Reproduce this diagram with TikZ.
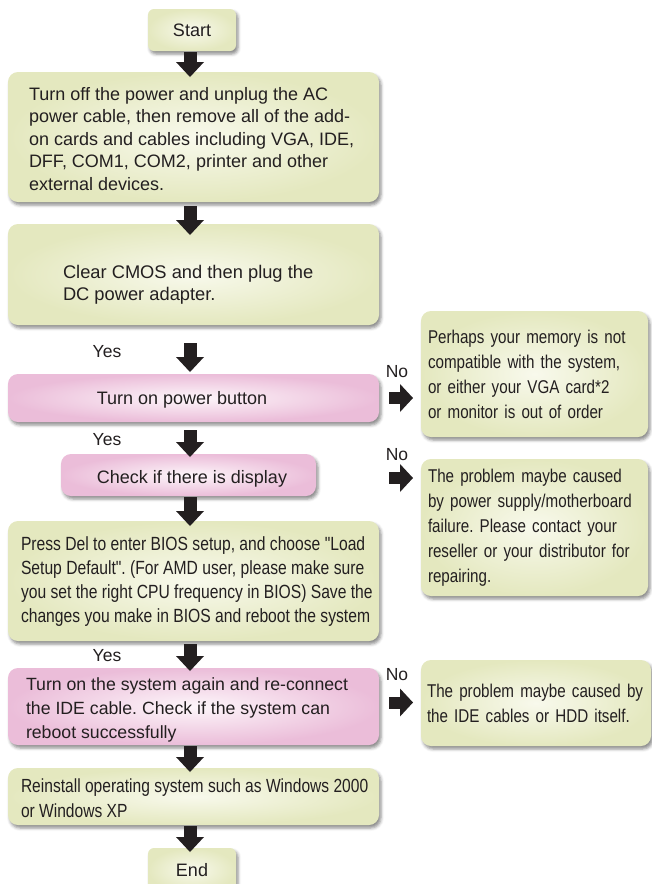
\documentclass[tikz,border=0pt]{standalone}
\usepackage{fontspec}
\setmainfont{Liberation Sans}
\newfontfamily\narrowfont[FakeStretch=0.82]{Liberation Sans}
\usetikzlibrary{shadows.blur,arrows.meta,calc}
\definecolor{gout}{HTML}{E4E8BF}
\definecolor{gin}{HTML}{F8F9EC}
\definecolor{pout}{HTML}{EBBDD9}
\definecolor{pin}{HTML}{FDF6FA}
\definecolor{ink}{HTML}{231F20}
\definecolor{arr}{HTML}{231F20}
\newcommand{\TS}{\rule{0pt}{14pt}}
\frenchspacing
\tikzset{
  shad/.style={blur shadow={shadow xshift=2pt, shadow yshift=-3pt, shadow blur radius=3pt, shadow opacity=45}},
  gbox/.style={shad, rounded corners=10pt, inner color=gin, outer color=gout, text=ink, inner sep=0pt, outer sep=0pt},
  pbox/.style={shad, rounded corners=10pt, inner color=pin, outer color=pout, text=ink, inner sep=0pt, outer sep=0pt},
  txt/.style={text=ink, inner sep=0pt, outer sep=0pt, anchor=north west, align=left},
  reg/.style={font=\fontsize{18}{22.5}\selectfont},
  nar/.style={font=\narrowfont\fontsize{19.1}{24.3}\selectfont},
  narr/.style={font=\narrowfont\fontsize{18.5}{25}\selectfont},
  lbl/.style={text=ink, font=\fontsize{17.5}{20}\selectfont, inner sep=0pt},
  fatdown/.style 2 args={draw=arr, line width=13pt, -{Triangle[width=28pt,length=15pt,line width=0pt]}, shorten <=#1, shorten >=#2},
  fatright/.style={draw=arr, line width=12pt, -{Triangle[width=28pt,length=13pt,line width=0pt]}, shorten >=8pt},
}
\begin{document}
\begin{tikzpicture}[x=1pt,y=-1pt]
\useasboundingbox (0,0) rectangle (652,884);
\clip (0,0) rectangle (652,884);
% main column boxes
\node[gbox, reg, rounded corners=6pt, minimum width=88, minimum height=42] (start) at (192,30) {Start};
\node[gbox, minimum width=371, minimum height=130] (b1) at (193.5,137) {};
\node[gbox, minimum width=371, minimum height=101] (b2) at (193.5,274.5) {};
\node[pbox, minimum width=371, minimum height=48] (p1) at (193.5,398) {};
\node[pbox, minimum width=255, minimum height=42] (p2) at (188.5,475) {};
\node[gbox, minimum width=371, minimum height=120] (b3) at (193.5,581) {};
\node[pbox, minimum width=371, minimum height=77] (p3) at (193.5,706.5) {};
\node[gbox, minimum width=371, minimum height=57] (b4) at (193.5,796.5) {};
\node[gbox, reg, rounded corners=6pt, minimum width=88, minimum height=44] (end) at (192,870) {End};
% texts of main column
\node[txt, reg] (b1t) at ($(b1.north west)+(21,14)$)
  {\TS Turn off the power and unplug the AC\\power cable, then remove all of the add-\\on cards and cables including VGA, IDE,\\DFF, COM1, COM2, printer and other\\external devices.};
\node[txt, font=\fontsize{18.3}{22}\selectfont] (b2t) at ($(b2.north west)+(55,40)$)
  {\TS Clear CMOS and then plug the\\DC power adapter.};
\node[text=ink, inner sep=0pt, anchor=base, font=\fontsize{18}{22}\selectfont] (p1t) at ($(p1.west)+(174,6)$) {Turn on power button};
\node[text=ink, inner sep=0pt, anchor=base, font=\fontsize{18}{22}\selectfont] (p2t) at ($(p2.west)+(131,8)$) {Check if there is display};
\node[txt, nar] (b3t) at ($(b3.north west)+(13,15)$)
  {\TS Press Del to enter BIOS setup, and choose "Load\\Setup Default". (For AMD user, please make sure\\you set the right CPU frequency in BIOS) Save the\\changes you make in BIOS and reboot the system};
\node[txt, font=\fontsize{17.7}{24}\selectfont] (p3t) at ($(p3.north west)+(18,8)$)
  {\TS Turn on the system again and re-connect\\the IDE cable. Check if the system can\\reboot successfully};
\node[txt, font=\narrowfont\fontsize{19}{25}\selectfont] (b4t) at ($(b4.north west)+(13,10)$)
  {\TS Reinstall operating system such as Windows 2000\\or Windows XP};
% right column
\node[gbox, narr, text width=213, inner xsep=7, minimum height=126, align=left] (r1) at (534.5,374)
  {Perhaps your memory is not\\compatible with the system,\\or either your VGA card*2\\or monitor is out of order};
\node[gbox, narr, text width=213, inner xsep=7, minimum height=137, align=left] (r2) at (534.5,527.5)
  {The problem maybe caused\\by power supply/motherboard\\failure. Please contact your\\reseller or your distributor for\\repairing.};
\node[gbox, narr, text width=218, inner xsep=6, minimum height=86, align=left] (r3) at (536,703)
  {The problem maybe caused by\\the IDE cables or HDD itself.};
% labels
\node[lbl] (y1) at (107,352) {Yes};
\node[lbl] (y2) at (107,440) {Yes};
\node[lbl] (y3) at (107,656) {Yes};
\node[lbl] (n1) at (397,372) {No};
\node[lbl] (n2) at (397,455) {No};
\node[lbl] (n3) at (397,675) {No};
% arrows
\coordinate (ax) at (190,0);
\coordinate (rx) at (389,0);
\draw[fatdown={1pt}{-5pt}] (start.south -| ax) -- (b1.north -| ax);
\draw[fatdown={4pt}{-11pt}] (b1.south -| ax) -- (b2.north -| ax);
\draw[fatdown={18pt}{2pt}] (b2.south -| ax) -- (p1.north -| ax);
\draw[fatdown={8pt}{-3pt}] (p1.south -| ax) -- (p2.north -| ax);
\draw[fatdown={1pt}{-5pt}] (p2.south -| ax) -- (b3.north -| ax);
\draw[fatdown={3pt}{-3pt}] (b3.south -| ax) -- (p3.north -| ax);
\draw[fatdown={1pt}{-4pt}] (p3.south -| ax) -- (b4.north -| ax);
\draw[fatdown={1pt}{-4pt}] (b4.south -| ax) -- (end.north -| ax);
\draw[fatright] (p1.east -| rx) -- (p1.east -| r1.west);
\draw[fatright] ($(p2.east -| rx)+(0,3)$) -- ($(p2.east -| r2.west)+(0,3)$);
\draw[fatright] ($(p3.east -| rx)+(0,-4)$) -- ($(p3.east -| r3.west)+(0,-4)$);
\end{tikzpicture}
\end{document}
